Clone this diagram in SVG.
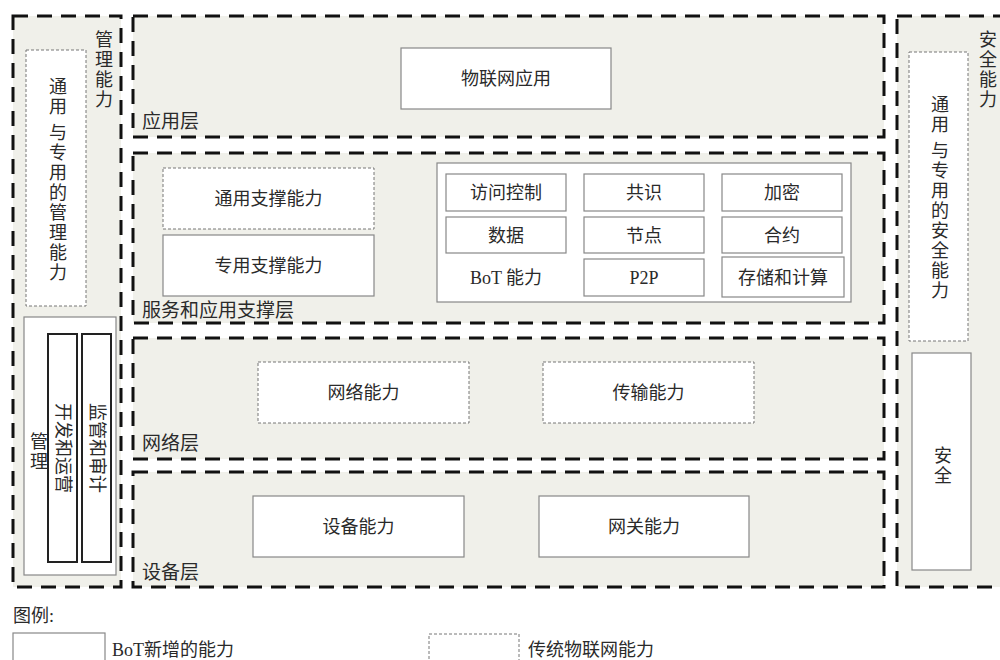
<svg xmlns="http://www.w3.org/2000/svg" width="1000" height="660" viewBox="0 0 1000 660">
<style>
text{font-family:"Liberation Serif","Noto Sans CJK SC",serif;font-size:18px;fill:#2a2a2a}
.layer{fill:#f0f0ea;stroke:#111;stroke-width:3;stroke-dasharray:15 9}
.dbox{fill:#fff;stroke:#777;stroke-width:1;stroke-dasharray:3 2}
.sbox{fill:#fff;stroke:#888;stroke-width:1.2}
.bbox{fill:#fff;stroke:#222;stroke-width:2}
.c{text-anchor:middle}
.v{writing-mode:vertical-rl;text-anchor:middle;letter-spacing:2px}
.lbl{font-size:19px}
</style>
<rect width="1000" height="660" fill="#fff"/>
<g id="mgmt">
<rect class="layer" x="13" y="16" width="108" height="571"/>
<text class="v" x="102" y="70">管理能力</text>
<rect class="dbox" x="26" y="50" width="60" height="256"/>
<text class="v" x="56" y="180">通用 与专用的管理能力</text>
<rect class="sbox" x="24" y="317" width="92" height="258"/>
<text class="v" x="37" y="452">管理</text>
<rect class="bbox" x="48" y="334" width="29" height="228"/>
<text class="c" font-size="17" transform="translate(62.5,448) rotate(90)" y="6">开发和运营</text>
<rect class="bbox" x="82" y="334" width="29" height="228"/>
<text class="c" font-size="17" transform="translate(96.5,448) rotate(90)" y="6">监管和审计</text>
</g>
<g id="app-layer">
<rect class="layer" x="133" y="16" width="751" height="121"/>
<rect class="sbox" x="401" y="48" width="210" height="61"/>
<text class="c" x="506" y="85">物联网应用</text>
<text class="lbl" x="142" y="128">应用层</text>
</g>
<g id="support-layer">
<rect class="layer" x="133" y="153" width="751" height="170"/>
<rect class="dbox" x="163" y="168" width="211" height="61"/>
<text class="c" x="268.500" y="205">通用支撑能力</text>
<rect class="sbox" x="163" y="235" width="211" height="61"/>
<text class="c" x="268.500" y="272">专用支撑能力</text>
<text class="lbl" x="142" y="317">服务和应用支撑层</text>
<rect class="sbox" x="437" y="163" width="414" height="139"/>
<rect class="sbox" x="446" y="174" width="120" height="37"/>
<text class="c" x="506" y="199">访问控制</text>
<rect class="sbox" x="584" y="174" width="120" height="37"/>
<text class="c" x="644" y="199">共识</text>
<rect class="sbox" x="722" y="174" width="120" height="37"/>
<text class="c" x="782" y="199">加密</text>
<rect class="sbox" x="446" y="217" width="120" height="36"/>
<text class="c" x="506" y="242">数据</text>
<rect class="sbox" x="584" y="217" width="120" height="36"/>
<text class="c" x="644" y="242">节点</text>
<rect class="sbox" x="722" y="217" width="120" height="36"/>
<text class="c" x="782" y="242">合约</text>
<text class="c" x="506" y="284">BoT 能力</text>
<rect class="sbox" x="584" y="259" width="120" height="37"/>
<text class="c" x="644" y="284">P2P</text>
<rect class="sbox" x="722" y="257" width="122" height="40"/>
<text class="c" x="783" y="284">存储和计算</text>
</g>
<g id="net-layer">
<rect class="layer" x="133" y="338" width="751" height="121"/>
<rect class="dbox" x="258" y="362" width="211" height="61"/>
<text class="c" x="363.500" y="399">网络能力</text>
<rect class="dbox" x="543" y="362" width="211" height="61"/>
<text class="c" x="648.500" y="399">传输能力</text>
<text class="lbl" x="142" y="450">网络层</text>
</g>
<g id="device-layer">
<rect class="layer" x="133" y="472" width="751" height="115"/>
<rect class="sbox" x="253" y="496" width="211" height="61"/>
<text class="c" x="358.500" y="533">设备能力</text>
<rect class="sbox" x="539" y="496" width="210" height="61"/>
<text class="c" x="644" y="533">网关能力</text>
<text class="lbl" x="142" y="579">设备层</text>
</g>
<g id="security">
<rect class="layer" x="897" y="16" width="110" height="571"/>
<text class="v" x="986" y="70">安全能力</text>
<rect class="dbox" x="909" y="52" width="59" height="289"/>
<text class="v" x="938" y="198">通用 与专用的安全能力</text>
<rect class="sbox" x="912" y="353" width="59" height="217"/>
<text class="v" x="941" y="466">安全</text>
</g>
<g id="legend">
<text x="13" y="622">图例:</text>
<rect class="sbox" x="13" y="633" width="92" height="40"/>
<text x="112" y="656">BoT新增的能力</text>
<rect class="dbox" x="429" y="634" width="90" height="40"/>
<text x="528" y="656">传统物联网能力</text>
</g>
<g id="connectors"></g>
</svg>
